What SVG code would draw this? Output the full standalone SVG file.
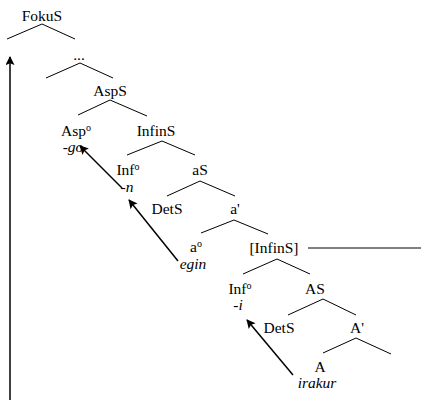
<svg xmlns="http://www.w3.org/2000/svg" width="428" height="400" viewBox="0 0 428 400">
<style>
text{font-family:"Liberation Serif","Times New Roman",serif;font-size:15.5px;fill:#000;text-anchor:middle}
.i{font-style:italic}
.sup{font-size:10px}
.br{fill:none;stroke:#000;stroke-width:1}
.ar{fill:none;stroke:#000;stroke-width:1.5;marker-end:url(#ah)}
</style>
<defs>
<marker id="ah" viewBox="0 0 10 10" refX="9" refY="5" markerWidth="11" markerHeight="9" markerUnits="userSpaceOnUse" orient="auto">
<path d="M0,0 L10,5 L0,10 L2,5 z" fill="#000"/>
</marker>
</defs>
<rect width="428" height="400" fill="#fff"/>
<g id="FokuS"><text x="42" y="21">FokuS</text></g>
<g id="dots"><text x="79" y="60">...</text></g>
<g id="AspS"><text x="110" y="96">AspS</text></g>
<g id="Asp0"><text x="76" y="136">Asp<tspan class="sup" dy="-5">o</tspan></text><text class="i" x="73" y="152">-go</text></g>
<g id="InfinS"><text x="156" y="136">InfinS</text></g>
<g id="Inf0"><text x="128" y="175">Inf<tspan class="sup" dy="-5">o</tspan></text><text class="i" x="127" y="192">-n</text></g>
<g id="aS"><text x="200" y="175">aS</text></g>
<g id="DetS1"><text x="167" y="214">DetS</text></g>
<g id="a1"><text x="235" y="214">a'</text></g>
<g id="a0"><text x="196" y="252">a<tspan class="sup" dy="-5">o</tspan></text><text class="i" x="193" y="269">egin</text></g>
<g id="InfinS2"><text x="274" y="253">[InfinS]</text></g>
<g id="Inf0b"><text x="240" y="294">Inf<tspan class="sup" dy="-5">o</tspan></text><text class="i" x="238" y="310">-i</text></g>
<g id="AS"><text x="315" y="294">AS</text></g>
<g id="DetS2"><text x="279" y="333">DetS</text></g>
<g id="A1"><text x="357" y="333">A'</text></g>
<g id="A"><text x="320" y="372">A</text><text class="i" x="317" y="388">irakur</text></g>
<g id="connectors">
<path class="br" d="M7,39 L42,24 L75,39"/>
<path class="br" d="M46,78 L80,63 L113,78"/>
<path class="br" d="M78,115 L110,100 L147,116"/>
<path class="br" d="M127,155 L162,141 L195,155"/>
<path class="br" d="M167,196 L200,181 L235,196"/>
<path class="br" d="M201,233 L234,220 L268,234"/>
<path class="br" d="M243,274 L277,259 L310,274"/>
<path class="br" d="M288,315 L323,299 L356,315"/>
<path class="br" d="M323,353 L356,338 L391,354"/>
<path class="br" d="M308,248 L421,248"/>
<path class="ar" d="M122,188 L80,146"/>
<path class="ar" d="M178,261 L129,200"/>
<path class="ar" d="M293,375 L247,320"/>
<path class="ar" d="M10,400 L10,57"/>
</g>
</svg>
